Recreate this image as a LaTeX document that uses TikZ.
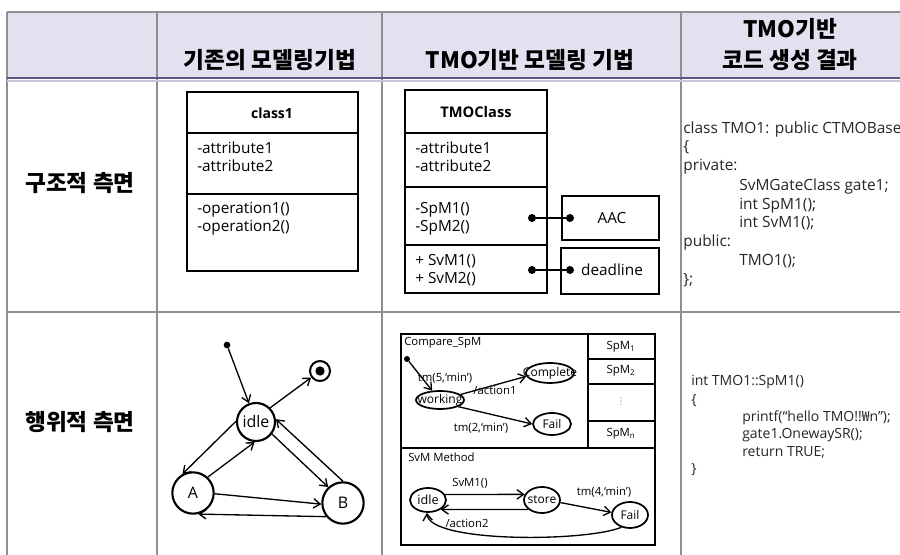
\documentclass[tikz,border=0pt]{standalone}
\usepackage{fontspec}
\setmainfont{Open Sans}
\newfontfamily\kr{Noto Sans CJK KR}
\newfontfamily\djv{DejaVu Sans}
\usetikzlibrary{arrows.meta,shapes.geometric}
\definecolor{hdrfill}{HTML}{E5E0F0}
\definecolor{hdrline}{HTML}{5E5685}
\definecolor{gridc}{HTML}{8F8F8F}
\definecolor{codec}{HTML}{262626}
\tikzset{
 gridln/.style={draw=gridc, line width=0.9pt},
 hdr/.style={font=\kr\bfseries\fontsize{17}{20}\selectfont, inner sep=0, text=black},
 uml/.style={line width=2pt},
 umlsep/.style={line width=1.3pt},
 utxt/.style={anchor=west, inner sep=0, font=\fontsize{11.5}{13}\selectfont, text height=8.5pt, text depth=2.5pt},
 utitle/.style={inner sep=0, font=\bfseries\fontsize{10.5}{12}\selectfont},
 sidebox/.style={draw, line width=2pt, inner sep=0, font=\fontsize{11.5}{13}\selectfont},
 dot/.style={circle, fill, inner sep=0, minimum size=6pt},
 conn/.style={line width=1pt},
 st/.style={circle, draw, line width=1.6pt, inner sep=0, font=\fontsize{12}{14}\selectfont},
 arr/.style={-{Straight Barb[length=5pt,width=7pt]}, line width=1pt},
 ell/.style={ellipse, draw, line width=1.3pt, inner sep=0},
 sm/.style={inner sep=0, font=\fontsize{8.5}{10}\selectfont},
 code/.style={anchor=west, inner sep=0, font=\fontsize{11.6}{14}\selectfont, text=codec, text height=8.4pt, text depth=2.7pt},
 codeb/.style={anchor=west, inner sep=0, font=\fontsize{10.5}{12}\selectfont, text=codec, text height=7.5pt, text depth=2.5pt},
}
\begin{document}
\begin{tikzpicture}[x=0.75pt,y=-0.75pt]
\useasboundingbox (0,0) rectangle (900,555);
\clip (0,0) rectangle (900,555);
\fill[white] (0,0) rectangle (900,555);
% ---------- table ----------
\fill[hdrfill] (7,12) rectangle (900,78);
\draw[gridln] (7,12) -- (900,12);
\foreach \xx in {7,157,382,681} \draw[gridln] (\xx,12) -- (\xx,555);
\draw[gridln] (7,312) -- (900,312);
\draw[hdrline, line width=2.2pt] (7,78) -- (900,78);
\draw[hdrfill!80!hdrline, line width=1pt] (7,81) -- (900,81);
% header texts
\node[hdr] (h1) at (270,60) {기존의 모델링기법};
\node[hdr] (h2) at (530,60) {TMO기반 모델링 기법};
\node[hdr] (h3a) at (790,29) {TMO기반};
\node[hdr] (h3b) at (790,60) {코드 생성 결과};
\node[hdr] (r1) at (80,183) {구조적 측면};
\node[hdr] (r2) at (80,422) {행위적 측면};
% ---------- class1 ----------
\draw[uml] (187,92) rectangle (358,271);
\draw[umlsep] (187,133) -- (358,133);
\draw[umlsep] (187,194) -- (358,194);
\node[utitle] (c1t) at (272,113) {class1};
\node[utxt] (c1a) at (197,150) {-attribute1};
\node[utxt] (c1b) at (197,168) {-attribute2};
\node[utxt] (c1c) at (197,210) {-operation1()};
\node[utxt] (c1d) at (197,228) {-operation2()};
% ---------- TMOClass ----------
\draw[uml] (405,90) rectangle (547,293);
\draw[umlsep] (405,133) -- (547,133);
\draw[umlsep] (405,187) -- (547,187);
\draw[umlsep] (405,245) -- (547,245);
\node[utitle, font=\bfseries\fontsize{11}{13}\selectfont] (tct) at (476,112) {TMOClass};
\node[utxt] (ta) at (415,150) {-attribute1};
\node[utxt] (tb) at (415,168) {-attribute2};
\node[utxt] (tc) at (415,210) {-SpM1()};
\node[utxt] (td) at (415,228) {-SpM2()};
\node[utxt] (te) at (415,262) {+ SvM1()};
\node[utxt] (tf) at (415,280) {+ SvM2()};
\node[sidebox, minimum width=72.75pt, minimum height=33pt] (aac) at (610.5,218) {};
\node[inner sep=0, font=\fontsize{11.5}{13}\selectfont] (aact) at (612,218) {AAC};
\node[sidebox, minimum width=73.5pt, minimum height=34.5pt] (dl) at (610,271) {};
\node[inner sep=0, font=\fontsize{11.5}{13}\selectfont] (dlt) at (612,270) {deadline};
\node[dot] (d1) at (532,218) {};
\node[dot] (d2) at (570,218) {};
\node[dot] (d3) at (532,270) {};
\node[dot] (d4) at (570,270) {};
\draw[conn] (d1) -- (d2);
\draw[conn] (d3) -- (d4);
% ---------- code 1 ----------
\node[code] (k1) at (683,130) {class TMO1: public CTMOBase};
\node[code] (k2) at (683,148) {\{};
\node[code] (k3) at (683,167) {private:};
\node[code] (k4) at (739,187) {SvMGateClass gate1;};
\node[code] (k5) at (739,206) {int SpM1();};
\node[code] (k6) at (739,224) {int SvM1();};
\node[code] (k7) at (683,243) {public:};
\node[code] (k8) at (739,262) {TMO1();};
\node[code] (k9) at (683,281) {\};};
% ---------- state diagram ----------
\node[st, minimum size=28.5pt] (idle) at (256,422) {idle};
\node[st, minimum size=31pt] (A) at (193,493) {A};
\node[st, minimum size=31pt] (B) at (343,503) {B};
\node[dot, minimum size=5pt] (ini) at (227,345) {};
\node[circle, draw, line width=1.5pt, minimum size=15pt, inner sep=0] (fin) at (320,371) {};
\node[dot, minimum size=7pt] (finin) at (320,371) {};
\draw[arr] (ini) -- (idle);
\draw[arr] (idle.45) -- (fin);
\draw[arr] (idle.178) -- (A.119);
\draw[arr] (A.47) -- (idle.266);
\draw[arr] (idle.-37) -- (B.133);
\draw[arr] (B.90) -- (idle.8);
\draw[arr] (A.-2) -- (B.183);
\draw[arr] (B.219) -- (A.284);
% ---------- TMO state box ----------
\draw[line width=1.5pt] (401,334) rectangle (655,545);
\draw[line width=1.2pt] (588,334) -- (588,448);
\draw[line width=1.2pt] (401,448) -- (655,448);
\foreach \yy in {359,384,421} \draw[line width=1pt] (588,\yy) -- (655,\yy);
\node[sm] (spm1) at (621,347) {SpM\textsubscript{1}};
\node[sm] (spm2) at (621,371) {SpM\textsubscript{2}};
\node[inner sep=0, font=\djv\fontsize{7}{8}\selectfont, text=gray] (spmd) at (621,402) {⋮};
\node[sm] (spmn) at (621,434) {SpM\textsubscript{n}};
\node[sm, anchor=west] (cmp) at (404,343) {Compare\_SpM};
\node[dot, minimum size=4.5pt] (ini2) at (407,359) {};
\node[ell, minimum width=36pt, minimum height=13.5pt, label={[sm, font=\fontsize{9}{10}\selectfont]center:working}] (wk) at (440,400) {};
\node[ell, minimum width=36pt, minimum height=15pt, label={[sm, font=\fontsize{9}{10}\selectfont]center:Complete}] (cp) at (550,373) {};
\node[ell, minimum width=28.5pt, minimum height=16.5pt, label={[sm, font=\fontsize{9}{10}\selectfont]center:Fail}] (f1) at (552,424) {};
\draw[arr] (ini2) -- (wk.130);
\draw[arr] (wk.15) -- (cp.188);
\draw[arr] (wk.-20) -- (f1.180);
\node[sm] (l1) at (445,378) {tm(5,‘min’)};
\node[sm] (l2) at (495,390) {/action1};
\node[sm] (l3) at (481,428) {tm(2,‘min’)};
\node[sm, anchor=west] (svm) at (408,457) {SvM Method};
\node[ell, minimum width=27pt, minimum height=18pt, label={[sm, font=\fontsize{9.5}{11}\selectfont]center:idle}] (idle2) at (428,500) {};
\node[ell, minimum width=27pt, minimum height=19.5pt, label={[sm, font=\fontsize{9}{10}\selectfont]center:store}] (store) at (542,500) {};
\node[ell, minimum width=27pt, minimum height=19.5pt, label={[sm, font=\fontsize{9}{10}\selectfont]center:Fail}] (f2) at (630,515) {};
\draw[arr] (idle2.18) -- (store.162);
\draw[arr] (store.215) -- (idle2.-37);
\draw[arr] (store.-8) -- (f2.172);
\draw[arr] (f2.235) .. controls (585,542) and (430,543) .. (idle2.-95);
\node[sm] (l4) at (470,483) {SvM1()};
\node[sm] (l5) at (467,523) {/action2};
\node[sm] (l6) at (604,492) {tm(4,‘min’)};
% ---------- code 2 ----------
\node[codeb] (m1) at (691,382) {int TMO1::SpM1()};
\node[codeb] (m2) at (691,401) {\{};
\node[codeb] (m3) at (742,418) {printf(“hello TMO!!{\kr ₩}n”);};
\node[codeb] (m4) at (742,435) {gate1.OnewaySR();};
\node[codeb] (m5) at (742,453) {return TRUE;};
\node[codeb] (m6) at (691,470) {\}};
\end{tikzpicture}
\end{document}
